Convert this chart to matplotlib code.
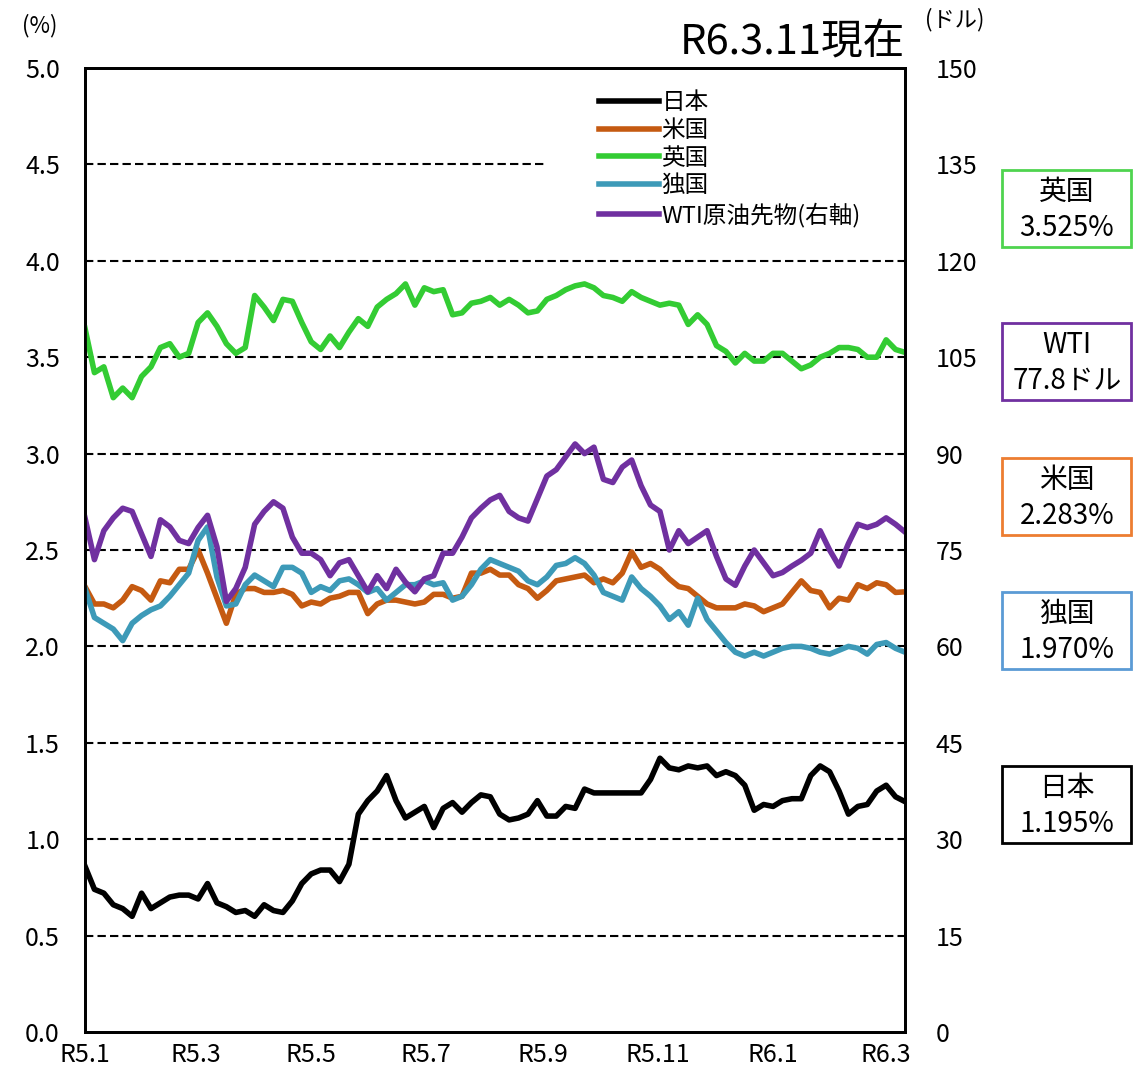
import matplotlib
matplotlib.use("Agg")
import matplotlib.pyplot as plt
from matplotlib.patches import Rectangle
import pandas as pd

plt.rcParams['font.family'] = ['Noto Sans CJK JP', 'DejaVu Sans']

# Data (one point every 5 days)
dates = pd.date_range('2023-01-01', '2024-03-11', freq='5D')

japan = [0.86, 0.74, 0.72, 0.66, 0.64, 0.60, 0.72, 0.64, 0.67, 0.70,
         0.71, 0.71, 0.69, 0.77, 0.67, 0.65, 0.62, 0.63, 0.60, 0.66,
         0.63, 0.62, 0.68, 0.77, 0.82, 0.84, 0.84, 0.78, 0.87, 1.13,
         1.20, 1.25, 1.33, 1.20, 1.11, 1.14, 1.17, 1.06, 1.16, 1.19,
         1.14, 1.19, 1.23, 1.22, 1.13, 1.10, 1.11, 1.13, 1.20, 1.12,
         1.12, 1.17, 1.16, 1.26, 1.24, 1.24, 1.24, 1.24, 1.24, 1.24,
         1.31, 1.42, 1.37, 1.36, 1.38, 1.37, 1.38, 1.33, 1.35, 1.33,
         1.28, 1.15, 1.18, 1.17, 1.20, 1.21, 1.21, 1.33, 1.38, 1.35,
         1.25, 1.13, 1.17, 1.18, 1.25, 1.28, 1.22, 1.195]

us = [2.31, 2.22, 2.22, 2.20, 2.24, 2.31, 2.29, 2.24, 2.34, 2.33,
      2.40, 2.40, 2.50, 2.38, 2.25, 2.12, 2.27, 2.30, 2.30, 2.28,
      2.28, 2.29, 2.27, 2.21, 2.23, 2.22, 2.25, 2.26, 2.28, 2.28,
      2.17, 2.22, 2.24, 2.24, 2.23, 2.22, 2.23, 2.27, 2.27, 2.25,
      2.26, 2.38, 2.38, 2.40, 2.37, 2.37, 2.32, 2.30, 2.25, 2.29,
      2.34, 2.35, 2.36, 2.37, 2.33, 2.35, 2.33, 2.38, 2.49, 2.41,
      2.43, 2.40, 2.35, 2.31, 2.30, 2.26, 2.22, 2.20, 2.20, 2.20,
      2.22, 2.21, 2.18, 2.20, 2.22, 2.28, 2.34, 2.29, 2.28, 2.20,
      2.25, 2.24, 2.32, 2.30, 2.33, 2.32, 2.28, 2.283]

uk = [3.65, 3.42, 3.45, 3.29, 3.34, 3.29, 3.40, 3.45, 3.55, 3.57,
      3.50, 3.52, 3.68, 3.73, 3.66, 3.57, 3.52, 3.55, 3.82, 3.76,
      3.69, 3.80, 3.79, 3.68, 3.58, 3.54, 3.61, 3.55, 3.63, 3.70,
      3.66, 3.76, 3.80, 3.83, 3.88, 3.77, 3.86, 3.84, 3.85, 3.72,
      3.73, 3.78, 3.79, 3.81, 3.77, 3.80, 3.77, 3.73, 3.74, 3.80,
      3.82, 3.85, 3.87, 3.88, 3.86, 3.82, 3.81, 3.79, 3.84, 3.81,
      3.79, 3.77, 3.78, 3.77, 3.67, 3.72, 3.67, 3.56, 3.53, 3.47,
      3.52, 3.48, 3.48, 3.52, 3.52, 3.48, 3.44, 3.46, 3.50, 3.52,
      3.55, 3.55, 3.54, 3.50, 3.50, 3.59, 3.54, 3.525]

germany = [2.30, 2.15, 2.12, 2.09, 2.03, 2.12, 2.16, 2.19, 2.21, 2.26,
           2.32, 2.38, 2.55, 2.62, 2.36, 2.21, 2.22, 2.32, 2.37, 2.34,
           2.31, 2.41, 2.41, 2.38, 2.28, 2.31, 2.29, 2.34, 2.35, 2.32,
           2.28, 2.30, 2.24, 2.28, 2.32, 2.32, 2.34, 2.32, 2.33, 2.24,
           2.26, 2.32, 2.40, 2.45, 2.43, 2.41, 2.39, 2.34, 2.32, 2.36,
           2.42, 2.43, 2.46, 2.43, 2.37, 2.28, 2.26, 2.24, 2.36, 2.30,
           2.26, 2.21, 2.14, 2.18, 2.11, 2.25, 2.14, 2.08, 2.02, 1.97,
           1.95, 1.97, 1.95, 1.97, 1.99, 2.00, 2.00, 1.99, 1.97, 1.96,
           1.98, 2.00, 1.99, 1.96, 2.01, 2.02, 1.99, 1.970]

wti = [80.0, 73.5, 78.0, 80.0, 81.5, 81.0, 77.5, 74.0, 79.7, 78.6,
       76.5, 76.0, 78.5, 80.4, 75.5, 67.0, 69.0, 72.3, 79.0, 81.0,
       82.5, 81.5, 77.0, 74.5, 74.5, 73.5, 71.0, 73.0, 73.5, 71.0,
       68.5, 71.0, 69.0, 72.0, 70.0, 68.5, 70.5, 71.0, 74.5, 74.5,
       77.0, 80.0, 81.5, 82.8, 83.5, 81.0, 80.0, 79.5, 83.0, 86.5,
       87.5, 89.5, 91.5, 90.0, 91.0, 86.0, 85.5, 87.9, 89.0, 85.0,
       82.0, 81.0, 75.0, 78.0, 76.0, 77.0, 78.0, 74.0, 70.5, 69.5,
       72.5, 75.0, 73.0, 71.0, 71.5, 72.5, 73.4, 74.5, 78.0, 75.0,
       72.5, 76.0, 79.0, 78.5, 79.0, 80.0, 79.0, 77.8]

tick_dates = ['2023-01-01', '2023-03-01', '2023-05-01', '2023-07-01',
              '2023-09-01', '2023-11-01', '2024-01-01', '2024-03-01']
tick_labels = ['R5.1', 'R5.3', 'R5.5', 'R5.7', 'R5.9', 'R5.11', 'R6.1', 'R6.3']

box_names = ['英国', 'WTI', '米国', '独国', '日本']
box_values = ['3.525%', '77.8ドル', '2.283%', '1.970%', '1.195%']
box_colors = ['#4fd44f', '#7030a0', '#ed7d31', '#5b9bd5', 'black']
box_tops = [170, 323, 458, 592, 766]  # pixel rows in the figure

c_jp, c_us, c_uk, c_de, c_wti = 'black', '#c55a11', '#33cc33', '#3d9ab8', '#7030a0'

fig = plt.figure(figsize=(11.33, 10.82), dpi=100)
W, H = 1133, 1082
ax = fig.add_axes([85 / W, 1 - 1032 / H, 820 / W, 964 / H])
ax2 = ax.twinx()

# dashed grid, the top one hidden under the legend
for v in [0.5, 1.0, 1.5, 2.0, 2.5, 3.0, 3.5, 4.0, 4.5]:
    ax.axhline(v, color='black', lw=1.5, ls=(0, (4, 2)),
               xmax=0.561 if v == 4.5 else 1, zorder=1)

lw = 4
l1, = ax.plot(dates, japan, color=c_jp, lw=lw, label='日本', zorder=3)
l2, = ax.plot(dates, us, color=c_us, lw=lw, label='米国', zorder=3)
l3, = ax.plot(dates, uk, color=c_uk, lw=lw, label='英国', zorder=3)
l4, = ax.plot(dates, germany, color=c_de, lw=lw, label='独国', zorder=3)
l5, = ax2.plot(dates, wti, color=c_wti, lw=lw, label='WTI原油先物(右軸)')

ax.set_xlim(pd.Timestamp('2023-01-01'), pd.Timestamp('2024-03-11'))
ax.set_ylim(0, 5)
ax2.set_ylim(0, 150)
ax.set_yticks([0, 0.5, 1, 1.5, 2, 2.5, 3, 3.5, 4, 4.5, 5])
ax.set_yticklabels([f'{v:.1f}' for v in ax.get_yticks()])
ax2.set_yticks(range(0, 151, 15))
ax.set_xticks(pd.to_datetime(tick_dates))
ax.set_xticklabels(tick_labels)

ax.tick_params(axis='y', length=0, pad=18, labelsize=18)
ax.tick_params(axis='x', length=0, pad=7, labelsize=18)
ax2.tick_params(axis='y', length=0, pad=22, labelsize=18)
for a in (ax, ax2):
    for s in a.spines.values():
        s.set_linewidth(2)

ax2.legend(handles=[l1, l2, l3, l4, l5], loc='upper left',
           bbox_to_anchor=(0.607, 0.993), frameon=False, fontsize=17,
           handlelength=2.55, handletextpad=0.08, labelspacing=0.2,
           borderpad=0.2)

fig.text(905 / W, 1 - 42 / H, 'R6.3.11現在', ha='right', va='center', fontsize=30)
fig.text(40 / W, 1 - 26 / H, '(%)', ha='center', va='center', fontsize=16)
fig.text(955 / W, 1 - 20 / H, '(ドル)', ha='center', va='center', fontsize=16)

# value boxes on the right
bh = 77
for name, val, col, top in zip(box_names, box_values, box_colors, box_tops):
    fig.patches.append(Rectangle((1002 / W, 1 - (top + bh) / H), 129 / W, bh / H,
                                 transform=fig.transFigure, facecolor='white',
                                 edgecolor=col, lw=2))
    fig.text(1067 / W, 1 - (top + 22) / H, name, ha='center', va='center', fontsize=20)
    fig.text(1067 / W, 1 - (top + 58) / H, val, ha='center', va='center', fontsize=20)

fig.savefig('out.png', dpi=100)
